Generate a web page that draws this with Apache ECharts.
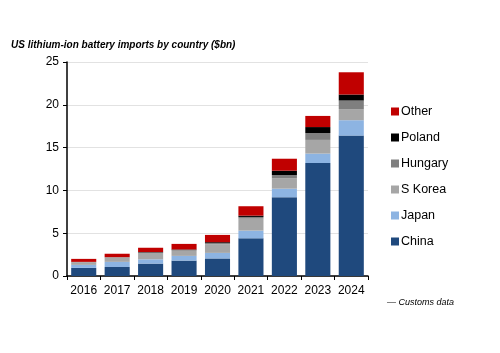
<!DOCTYPE html>
<html>
<head>
<meta charset="utf-8">
<script src="https://cdn.jsdelivr.net/npm/echarts@6/dist/echarts.min.js"></script>
<style>
    html, body { margin: 0; padding: 0; background: #fff; }
    #chart { width: 500px; height: 353px; }
</style>
</head>
<body>
<div id="chart"></div>
<script>
    // 数据
    var years = ['2016', '2017', '2018', '2019', '2020', '2021', '2022', '2023', '2024'];
    var china = [0.95, 1.05, 1.45, 1.8, 2.05, 4.4, 9.2, 13.2, 16.4];
    var japan = [0.35, 0.6, 0.5, 0.55, 0.65, 0.9, 1.0, 1.1, 1.8];
    var korea = [0.3, 0.5, 0.75, 0.6, 1.0, 1.4, 1.2, 1.6, 1.3];
    var hungary = [0.05, 0.05, 0.05, 0.1, 0.15, 0.2, 0.4, 0.8, 1.0];
    var poland = [0.0, 0.0, 0.05, 0.05, 0.1, 0.15, 0.5, 0.7, 0.7];
    var other = [0.35, 0.4, 0.5, 0.65, 0.85, 1.1, 1.4, 1.3, 2.6];
    var yTicks = [0, 5, 10, 15, 20, 25];

    var font = 'Liberation Sans';

    function makeSeries(name, data, color) {
        return {
            name: name,
            type: 'bar',
            stack: 'total',
            barCategoryGap: '25%',
            itemStyle: {color: color},
            emphasis: {disabled: true},
            data: data
        };
    }

    var myChart = echarts.init(document.getElementById('chart'));
    var option = {
        animation: false,
        title: {
            text: 'US lithium-ion battery imports by country ($bn)',
            left: 6,
            top: 35,
            textStyle: {fontFamily: font, fontSize: 10, fontStyle: 'italic', fontWeight: 'bold', color: '#000'}
        },
        graphic: [{
            type: 'text',
            left: 387,
            top: 298,
            style: {text: '— Customs data', font: 'italic 9px ' + font, fill: '#000'}
        }],
        legend: {
            orient: 'vertical',
            left: 386,
            top: 100,
            itemWidth: 8,
            itemHeight: 8,
            itemGap: 13,
            icon: 'rect',
            textStyle: {fontFamily: font, fontSize: 12.5, color: '#000', padding: [0, 0, 0, -3]},
            data: ['Other', 'Poland', 'Hungary', 'S Korea', 'Japan', 'China']
        },
        grid: {left: 67, top: 62, width: 301, height: 214, containLabel: false},
        xAxis: {
            type: 'category',
            data: years,
            axisLine: {lineStyle: {color: '#000', width: 1.5}},
            axisTick: {show: true, length: 4, lineStyle: {color: '#000'}},
            axisLabel: {interval: 0, fontFamily: font, fontSize: 12, color: '#000', margin: 9}
        },
        yAxis: {
            type: 'value',
            min: yTicks[0],
            max: yTicks[yTicks.length - 1],
            interval: 5,
            axisLine: {show: true, lineStyle: {color: '#000', width: 1.5}},
            axisTick: {show: true, length: 4, lineStyle: {color: '#000'}},
            axisLabel: {fontFamily: font, fontSize: 12, color: '#000', margin: 8},
            splitLine: {lineStyle: {color: '#e2e2e2'}}
        },
        series: [
            makeSeries('China', china, '#1f497d'),
            makeSeries('Japan', japan, '#8db4e2'),
            makeSeries('S Korea', korea, '#a6a6a6'),
            makeSeries('Hungary', hungary, '#7f7f7f'),
            makeSeries('Poland', poland, '#000000'),
            makeSeries('Other', other, '#c00000')
        ]
    };
    myChart.setOption(option);
</script>
</body>
</html>
